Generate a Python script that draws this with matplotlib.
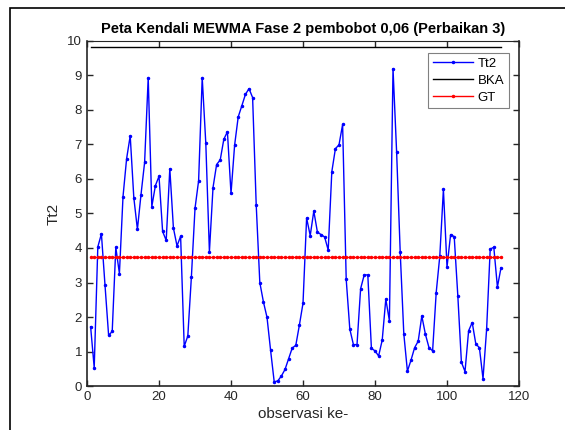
import matplotlib.pyplot as plt
from matplotlib.patches import Rectangle

tt2 = [
    1.72, 0.53, 4.03, 4.41, 2.92, 1.47, 1.58, 4.02, 3.26, 5.49,
    6.59, 7.25, 5.46, 4.54, 5.55, 6.48, 8.94, 5.20, 5.81, 6.08,
    4.48, 4.22, 6.30, 4.58, 4.06, 4.34, 1.15, 1.45, 3.17, 5.15,
    5.95, 8.94, 7.03, 3.89, 5.75, 6.42, 6.55, 7.15, 7.37, 5.58,
    6.98, 7.80, 8.12, 8.45, 8.62, 8.36, 5.25, 3.00, 2.44, 1.99,
    1.03, 0.12, 0.15, 0.29, 0.48, 0.79, 1.10, 1.18, 1.77, 2.40,
    4.87, 4.36, 5.07, 4.46, 4.39, 4.32, 3.94, 6.21, 6.88, 6.99,
    7.58, 3.09, 1.65, 1.20, 1.20, 2.82, 3.22, 3.22, 1.09, 1.02,
    0.87, 1.33, 2.52, 1.89, 9.20, 6.79, 3.88, 1.51, 0.43, 0.75,
    1.11, 1.30, 2.03, 1.50, 1.11, 1.02, 2.71, 3.77, 5.70, 3.45,
    4.39, 4.33, 2.62, 0.69, 0.42, 1.60, 1.84, 1.22, 1.11, 0.21,
    1.64, 3.97, 4.02, 2.87, 3.43,
]
obs = list(range(1, len(tt2) + 1))
bka = 9.82   # batas kendali atas
gt = 3.73    # garis tengah

plt.rcParams["font.family"] = ["Liberation Sans", "DejaVu Sans"]

fig = plt.figure(figsize=(5.65, 4.30), dpi=100)
ax = fig.add_axes([0.154, 0.1023, 0.7646, 0.8024])

ax.plot(obs, tt2, color="blue", marker="o", markersize=1.5, linewidth=1.0, label="Tt2")
ax.plot(obs, [bka] * len(obs), color="black", linewidth=1.0, label="BKA")
ax.plot(obs, [gt] * len(obs), color="red", marker="o", markersize=1.5, linewidth=1.0, label="GT")

ax.set_xlim(0, 120)
ax.set_ylim(0, 10)
ax.set_xticks(range(0, 121, 20))
ax.set_yticks(range(0, 11))
ax.tick_params(direction="in", top=True, right=True, length=4, width=1.0,
               labelsize=9.5, colors="#262626")
for s in ax.spines.values():
    s.set_color("#262626")
    s.set_linewidth(1.2)
ax.spines["top"].set_linewidth(0.8)

ax.set_title("Peta Kendali MEWMA Fase 2 pembobot 0,06 (Perbaikan 3)",
             fontsize=10.5, fontweight="bold", pad=6)
ax.set_xlabel("observasi ke-", fontsize=11, labelpad=3, color="#262626")
ax.set_ylabel("Tt2", fontsize=11, labelpad=5, color="#262626")

leg = ax.legend(loc="upper right", bbox_to_anchor=(0.977, 0.965), fontsize=9.5,
                fancybox=False, framealpha=1, edgecolor="#808080",
                handlelength=3.0, borderpad=0.35, labelspacing=0.35,
                handletextpad=0.4, borderaxespad=0)
leg.get_frame().set_linewidth(0.8)
for h in leg.legend_handles:
    h.set_markevery([1])

# outer frame from the original screenshot (cropped on right/bottom)
fig.patches.append(Rectangle((10 / 565, -0.1), 1.2, (430 - 8) / 430 + 0.1,
                             transform=fig.transFigure, fill=False,
                             edgecolor="black", linewidth=1.2))

fig.savefig("out.png", dpi=100)
